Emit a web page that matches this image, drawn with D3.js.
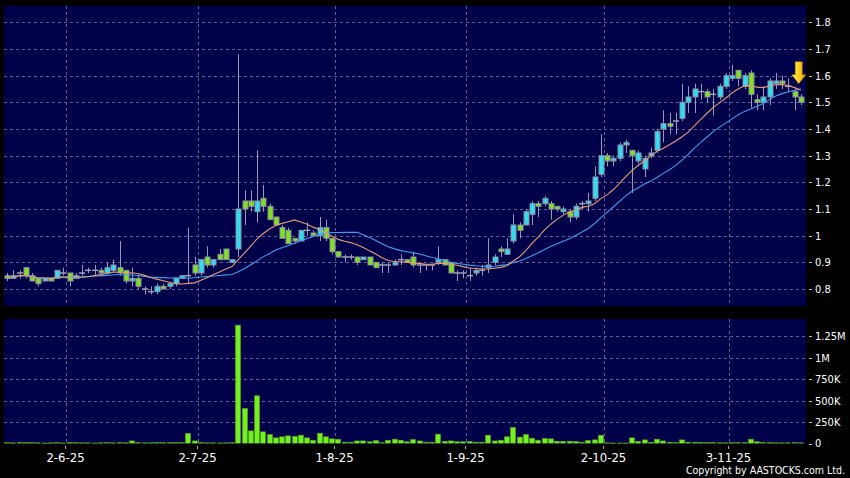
<!DOCTYPE html>
<html><head><meta charset="utf-8">
<script src="https://cdn.jsdelivr.net/npm/d3@7"></script>
<style>html,body{margin:0;padding:0;background:#000;}svg{display:block}</style>
</head><body><svg id="chart" width="850" height="478"></svg>
<script>
// ---- data (trading days, d-m-yy) ----
const dates = [
"19-5-25","20-5-25","21-5-25","22-5-25","23-5-25","26-5-25","27-5-25","28-5-25","29-5-25","30-5-25",
"2-6-25","3-6-25","4-6-25","5-6-25","6-6-25","9-6-25","10-6-25","11-6-25","12-6-25","13-6-25","16-6-25","17-6-25","18-6-25","19-6-25","20-6-25","23-6-25","24-6-25","25-6-25","26-6-25","27-6-25","30-6-25",
"2-7-25","3-7-25","4-7-25","7-7-25","8-7-25","9-7-25","10-7-25","11-7-25","14-7-25","15-7-25","16-7-25","17-7-25","18-7-25","21-7-25","22-7-25","23-7-25","24-7-25","25-7-25","28-7-25","29-7-25","30-7-25","31-7-25",
"1-8-25","4-8-25","5-8-25","6-8-25","7-8-25","8-8-25","11-8-25","12-8-25","13-8-25","14-8-25","15-8-25","18-8-25","19-8-25","20-8-25","21-8-25","22-8-25","25-8-25","26-8-25","27-8-25","28-8-25","29-8-25",
"1-9-25","2-9-25","3-9-25","4-9-25","5-9-25","8-9-25","9-9-25","10-9-25","11-9-25","12-9-25","15-9-25","16-9-25","17-9-25","18-9-25","19-9-25","22-9-25","23-9-25","24-9-25","25-9-25","26-9-25","29-9-25","30-9-25",
"2-10-25","3-10-25","6-10-25","8-10-25","9-10-25","10-10-25","13-10-25","14-10-25","15-10-25","16-10-25","17-10-25","20-10-25","21-10-25","22-10-25","23-10-25","24-10-25","27-10-25","28-10-25","30-10-25","31-10-25",
"3-11-25","4-11-25","5-11-25","6-11-25","7-11-25","10-11-25","11-11-25","12-11-25","13-11-25","14-11-25","17-11-25","18-11-25"];

const open = [
.85,.84,.86,.88,.85,.84,.83,.84,.84,.86,
.86,.84,.86,.87,.87,.87,.86,.87,.88,.87,.83,.84,.80,.79,.79,.81,.81,.82,.84,.85,.89,
.86,.92,.89,.93,.95,.90,.95,1.13,1.13,1.09,1.14,1.11,1.07,1.03,1.02,.99,.98,1.02,1.01,1.00,1.03,.99,
.94,.92,.92,.92,.91,.92,.90,.89,.89,.89,.91,.91,.92,.89,.89,.89,.90,.91,.90,.86,.86,
.85,.86,.87,.88,.90,.95,.93,.98,1.04,1.04,1.08,1.12,1.12,1.12,1.11,1.09,1.09,1.07,1.12,1.12,1.14,1.23,
1.30,1.28,1.29,1.34,1.32,1.28,1.25,1.30,1.32,1.40,1.42,1.43,1.44,1.50,1.52,1.54,1.54,1.53,1.52,1.56,
1.59,1.62,1.56,1.61,1.51,1.50,1.52,1.57,1.58,1.56,1.54,1.52];
const high = [
.86,.87,.87,.88,.86,.84,.84,.84,.87,.88,
.86,.86,.89,.88,.89,.88,.90,.91,.98,.87,.88,.85,.81,.81,.82,.82,.82,.84,.85,1.03,.92,
.91,.96,.91,.95,.95,.91,1.68,1.17,1.17,1.32,1.19,1.12,1.07,1.04,1.03,.99,1.02,1.05,1.02,1.07,1.06,.99,
.94,.93,.93,.92,.92,.92,.90,.90,.90,.91,.93,.91,.94,.89,.89,.89,.96,.91,.90,.87,.87,
.88,.88,.89,.99,.93,.96,.99,1.08,1.05,1.10,1.13,1.13,1.15,1.13,1.11,1.11,1.10,1.12,1.13,1.16,1.26,1.38,
1.31,1.30,1.35,1.36,1.32,1.32,1.30,1.33,1.40,1.47,1.46,1.46,1.57,1.56,1.57,1.57,1.55,1.55,1.57,1.61,
1.64,1.62,1.61,1.62,1.53,1.56,1.59,1.61,1.60,1.59,1.55,1.53];
const low = [
.83,.84,.84,.84,.83,.81,.83,.83,.84,.85,
.81,.84,.85,.86,.85,.85,.86,.86,.85,.82,.81,.80,.78,.78,.78,.80,.80,.81,.84,.82,.85,
.85,.88,.88,.91,.91,.90,.92,1.04,1.09,1.05,1.09,1.06,1.04,.99,.97,.97,.98,1.00,1.00,.98,.98,.93,
.92,.90,.91,.89,.91,.89,.88,.86,.86,.89,.89,.90,.88,.86,.87,.87,.89,.89,.86,.83,.84,
.83,.85,.85,.86,.89,.92,.93,.97,.99,1.04,1.04,1.07,1.11,1.06,1.09,1.08,1.05,1.06,1.10,1.09,1.13,1.22,
1.26,1.26,1.28,1.31,1.16,1.27,1.22,1.29,1.31,1.35,1.38,1.38,1.43,1.46,1.46,1.51,1.50,1.45,1.51,1.55,
1.58,1.56,1.55,1.48,1.47,1.47,1.49,1.55,1.55,1.54,1.47,1.49];
const close = [
.84,.85,.86,.85,.83,.82,.84,.83,.87,.86,
.83,.85,.86,.87,.87,.86,.88,.89,.86,.83,.84,.81,.80,.79,.81,.80,.82,.84,.85,.85,.86,
.91,.89,.91,.91,.91,.91,1.10,1.10,1.11,1.13,1.11,1.06,1.04,.99,.97,.98,1.02,1.02,1.00,1.03,.99,.94,
.92,.92,.92,.90,.92,.89,.88,.89,.89,.90,.91,.90,.89,.89,.89,.89,.91,.89,.86,.86,.86,
.85,.87,.87,.89,.92,.94,.95,1.04,1.02,1.09,1.12,1.11,1.14,1.10,1.10,1.10,1.07,1.11,1.12,1.13,1.22,1.30,
1.28,1.29,1.34,1.35,1.30,1.31,1.29,1.31,1.39,1.42,1.41,1.43,1.50,1.52,1.55,1.54,1.52,1.53,1.56,1.60,
1.60,1.59,1.60,1.53,1.50,1.52,1.58,1.58,1.57,1.56,1.52,1.50];
// volume in thousands of shares
const volume = [
10,8,10,12,10,8,6,8,10,6,
12,10,8,8,6,8,10,8,10,8,30,10,8,8,10,10,12,10,12,117,30,
12,8,8,6,8,10,1380,409,147,556,136,105,66,78,89,82,97,66,38,120,78,54,
50,15,15,30,30,20,35,10,38,50,38,20,45,30,15,15,109,26,30,20,20,
23,15,15,97,30,38,78,187,74,105,62,38,58,54,26,26,26,23,15,35,42,97,
8,6,6,6,66,26,42,15,50,30,15,10,42,15,15,12,12,12,8,8,
10,10,10,50,20,12,10,8,8,8,10,8];

const xTickLabels = ["2-6-25","2-7-25","1-8-25","1-9-25","2-10-25","3-11-25"];
const priceTicks = [0.8,0.9,1.0,1.1,1.2,1.3,1.4,1.5,1.6,1.7,1.8];
const volTicks = [0,250,500,750,1000,1250];
const volTickLabels = ["0","250K","500K","750K","1M","1.25M"];
const arrowPrice = 1.57; // tip of the marker arrow

// ---- layout ----
const svg = d3.select("#chart");
const L = 4, R = 806;
const pTop = 6, pBot = 306, vTop = 319, vBot = 443.5;
const FONT = "'DejaVu Sans Condensed','DejaVu Sans',sans-serif";
const navy = "#00004a";
const gridCol = "#5e5e90";

svg.append("rect").attr("width",850).attr("height",478).attr("fill","#000");
svg.append("rect").attr("x",L).attr("y",pTop).attr("width",R-L).attr("height",pBot-pTop).attr("fill",navy);
svg.append("rect").attr("x",L).attr("y",vTop).attr("width",R-L).attr("height",vBot-vTop).attr("fill",navy);

const n = dates.length;
const x = d3.scaleBand().domain(d3.range(n)).range([3.875, 3.875 + 6.25*n]).padding(0);
const cx = i => x(i) + x.bandwidth()/2;
const y = d3.scaleLinear().domain([0.8,1.8]).range([289,22.3]);
const yv = d3.scaleLinear().domain([0,1250]).range([vBot,336.3]);

const defs = svg.append("defs");
defs.append("clipPath").attr("id","cp").append("rect").attr("x",L).attr("y",pTop).attr("width",R-L).attr("height",pBot-pTop);
defs.append("clipPath").attr("id","cv").append("rect").attr("x",L).attr("y",vTop).attr("width",R-L).attr("height",vBot-vTop);

// horizontal grids
svg.append("g").selectAll("line").data(priceTicks).join("line")
  .attr("x1",L).attr("x2",R).attr("y1",d=>Math.round(y(d))+0.5).attr("y2",d=>Math.round(y(d))+0.5)
  .attr("stroke",gridCol).attr("stroke-dasharray","3,3").attr("stroke-width",1);
svg.append("g").selectAll("line").data(volTicks.slice(1)).join("line")
  .attr("x1",L).attr("x2",R).attr("y1",d=>Math.round(yv(d))+0.5).attr("y2",d=>Math.round(yv(d))+0.5)
  .attr("stroke",gridCol).attr("stroke-dasharray","3,3").attr("stroke-width",1);

// vertical grids at date boundaries
const tickIdx = xTickLabels.map(t => dates.indexOf(t));
const gx = i => Math.round(x(i)) + 0.5;
[[pTop,pBot],[vTop,vBot]].forEach(([a,b]) => {
  svg.append("g").selectAll("line").data(tickIdx).join("line")
    .attr("x1",gx).attr("x2",gx).attr("y1",a).attr("y2",b)
    .attr("stroke",gridCol).attr("stroke-dasharray","3,3");
});

// moving averages (10- and 20-day) of the closes
function sma(arr, k){ return arr.map((_,i)=>{ const s=Math.max(0,i-k+1); return d3.mean(arr.slice(s,i+1)); }); }
const ma10 = sma(close,10), ma20 = sma(close,20);
const line = d3.line().x((d,i)=>cx(i)).y(d=>y(d));

const gp = svg.append("g").attr("clip-path","url(#cp)");
const idx = d3.range(n);

// wicks
gp.append("g").selectAll("line").data(idx).join("line")
  .attr("x1",i=>Math.round(cx(i))+0.5).attr("x2",i=>Math.round(cx(i))+0.5)
  .attr("y1",i=>y(high[i])).attr("y2",i=>y(low[i]))
  .attr("stroke","#9a9ab4").attr("stroke-width",1);

// bodies
gp.append("g").selectAll("rect").data(idx.filter(i=>open[i]!==close[i])).join("rect")
  .attr("x",i=>Math.round(cx(i))-2)
  .attr("width",5)
  .attr("y",i=>y(Math.max(open[i],close[i])))
  .attr("height",i=>Math.max(1,Math.abs(y(open[i])-y(close[i]))))
  .attr("fill",i=>close[i]>open[i] ? "#30dcee" : "#7ee21e")
  .attr("stroke","#8c8ca4").attr("stroke-width",1);
// doji
gp.append("g").selectAll("line").data(idx.filter(i=>open[i]===close[i])).join("line")
  .attr("x1",i=>Math.round(cx(i))-3).attr("x2",i=>Math.round(cx(i))+3)
  .attr("y1",i=>y(close[i])).attr("y2",i=>y(close[i]))
  .attr("stroke","#a0a0b8").attr("stroke-width",1.5);

gp.append("path").datum(ma20).attr("d",line).attr("fill","none").attr("stroke","#3aa0f0").attr("stroke-width",1.1);
gp.append("path").datum(ma10).attr("d",line).attr("fill","none").attr("stroke","#e89a78").attr("stroke-width",1.1);

// arrow marker over last candles
const ag = defs.append("linearGradient").attr("id","ag").attr("x1","0").attr("x2","1").attr("y1","0").attr("y2","0");
ag.append("stop").attr("offset","0").attr("stop-color","#fff27a");
ag.append("stop").attr("offset","0.5").attr("stop-color","#ffd21a");
ag.append("stop").attr("offset","1").attr("stop-color","#e0a000");
const ax = cx(n-1) - 2, ayTip = y(arrowPrice);
svg.append("path")
  .attr("d",`M${ax-3.5},${ayTip-22} L${ax+3.5},${ayTip-22} L${ax+3.5},${ayTip-9} L${ax+7},${ayTip-9} L${ax},${ayTip} L${ax-7},${ayTip-9} L${ax-3.5},${ayTip-9} Z`)
  .attr("fill","url(#ag)").attr("stroke","#b08000").attr("stroke-width",0.5);

// volume bars
const gv = svg.append("g").attr("clip-path","url(#cv)");
gv.selectAll("rect").data(idx).join("rect")
  .attr("x",i=>Math.round(cx(i))-2.5).attr("width",5)
  .attr("y",i=>yv(volume[i])).attr("height",i=>Math.max(0.8,vBot-yv(volume[i])))
  .attr("fill","#74f020").attr("stroke","#4fa818").attr("stroke-width",0.6);

// y axis labels
const yl = svg.append("g").attr("font-family",FONT).attr("font-size",11).attr("fill","#fff");
priceTicks.forEach(t=>{
  yl.append("line").attr("x1",809).attr("x2",812).attr("y1",Math.round(y(t))+0.5).attr("y2",Math.round(y(t))+0.5).attr("stroke","#bbb");
  yl.append("text").attr("x",815).attr("y",y(t)).attr("dy","0.36em").text(d3.format("~g")(t));
});
volTicks.forEach((t,k)=>{
  yl.append("line").attr("x1",809).attr("x2",812).attr("y1",Math.round(yv(t))+0.5).attr("y2",Math.round(yv(t))+0.5).attr("stroke","#bbb");
  yl.append("text").attr("x",815).attr("y",yv(t)).attr("dy","0.36em").text(volTickLabels[k]);
});

// x axis labels
const xl = svg.append("g").attr("font-family",FONT).attr("font-size",13).attr("fill","#fff").attr("text-anchor","middle");
tickIdx.forEach((i,k)=>{
  xl.append("line").attr("x1",gx(i)-1).attr("x2",gx(i)-1).attr("y1",446).attr("y2",449).attr("stroke","#aaa");
  xl.append("text").attr("x",gx(i)-1).attr("y",462).text(xTickLabels[k]);
});

svg.append("text").attr("x",845).attr("y",474).attr("text-anchor","end")
  .attr("font-family",FONT).attr("font-size",10.5).attr("fill","#fff").text("Copyright by AASTOCKS.com Ltd.");
</script></body></html>
